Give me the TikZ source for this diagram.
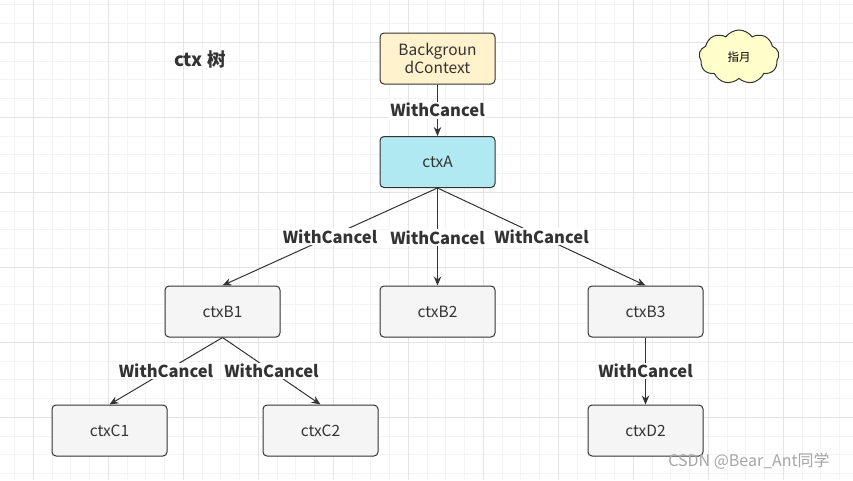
\documentclass[tikz,border=0pt]{standalone}
\usepackage{fontspec}
\setmainfont{Noto Sans CJK SC}
\usetikzlibrary{arrows.meta,shapes.symbols}

\definecolor{gridMinor}{RGB}{243,243,243}
\definecolor{gridMajor}{RGB}{228,228,228}
\definecolor{lineGray}{RGB}{51,51,51}
\definecolor{boxGray}{RGB}{245,245,245}
\definecolor{bgYellow}{RGB}{255,242,204}
\definecolor{ctxCyan}{RGB}{177,233,242}
\definecolor{cloudYellow}{RGB}{255,255,204}

\newcommand\boxW{115}
\newcommand\boxH{51}
\newcommand\gridStep{18.75}
\newcommand\colA{437.5}
\newcommand\colB{222.5}
\newcommand\colC{645.5}
\newcommand\rowA{162}
\newcommand\rowB{311.5}
\newcommand\rowC{430.5}

\tikzset{
  ctxbox/.style={draw=lineGray, line width=1pt, fill=boxGray, rounded corners=4pt,
    minimum width=\boxW pt, minimum height=\boxH pt, inner sep=0pt, text=lineGray,
    align=center, font=\fontsize{15.5}{18}\selectfont},
  link/.style={draw=lineGray, line width=1pt, -{Stealth[length=9pt,width=7.5pt]}},
  edgelabel/.style={fill=white, inner sep=1.5pt, text=lineGray,
    font=\fontsize{16.5}{19}\selectfont\bfseries}
}

\begin{document}
\begin{tikzpicture}[x=1pt, y=-1pt]
    \useasboundingbox (0,0) rectangle (853,480);
    \fill[white] (0,0) rectangle (853,480);

    % grid
    \foreach \k in {0,...,45}{
      \draw[gridMinor, line width=0.8pt] (14.6+\gridStep*\k,0) -- (14.6+\gridStep*\k,480);
    }
    \foreach \k in {0,...,25}{
      \draw[gridMinor, line width=0.8pt] (0,4.8+\gridStep*\k) -- (853,4.8+\gridStep*\k);
    }
    \foreach \k in {0,...,11}{
      \draw[gridMajor, line width=0.8pt] (33.3+75*\k,0) -- (33.3+75*\k,480);
    }
    \foreach \k in {0,...,6}{
      \draw[gridMajor, line width=0.8pt] (0,42.3+75*\k) -- (853,42.3+75*\k);
    }

    \node[text=lineGray, font=\fontsize{18.5}{21}\selectfont\bfseries] (title) at (200,59) {ctx 树};
    \node[cloud, cloud puffs=9, cloud puff arc=110, draw=lineGray, line width=1pt,
      fill=cloudYellow, minimum width=80pt, minimum height=54pt, inner sep=0pt,
      font=\fontsize{11.5}{13}\selectfont] (note) at (739,57) {指月};

    \node[ctxbox, fill=bgYellow] (bg) at (\colA,58.5) {Backgroun\\dContext};
    \node[ctxbox, fill=ctxCyan] (ctxA) at (\colA,\rowA) {ctxA};

    \node[ctxbox] (ctxB1) at (\colB,\rowB) {ctxB1};
    \node[ctxbox] (ctxB2) at (\colA,\rowB) {ctxB2};
    \node[ctxbox] (ctxB3) at (\colC,\rowB) {ctxB3};

    \node[ctxbox] (ctxC1) at (109.5,\rowC) {ctxC1};
    \node[ctxbox] (ctxC2) at (320.5,\rowC) {ctxC2};
    \node[ctxbox] (ctxD2) at (\colC,\rowC) {ctxD2};

    \draw[link] (bg) -- node[edgelabel] {WithCancel} (ctxA);
    \draw[link] (ctxA.south) -- node[edgelabel] {WithCancel} (ctxB1.north);
    \draw[link] (ctxA.south) -- node[edgelabel, pos=0.51] {WithCancel} (ctxB2.north);
    \draw[link] (ctxA.south) -- node[edgelabel] {WithCancel} (ctxB3.north);
    \draw[link] (ctxB1.south) -- node[edgelabel] {WithCancel} (ctxC1.north);
    \draw[link] (ctxB1.south) -- node[edgelabel] {WithCancel} (ctxC2.north);
    \draw[link] (ctxB3) -- node[edgelabel] {WithCancel} (ctxD2);

    \node[text=gray!70, font=\fontsize{16}{18}\selectfont] (mark) at (749,461) {CSDN @Bear\_Ant同学};
\end{tikzpicture}
\end{document}
